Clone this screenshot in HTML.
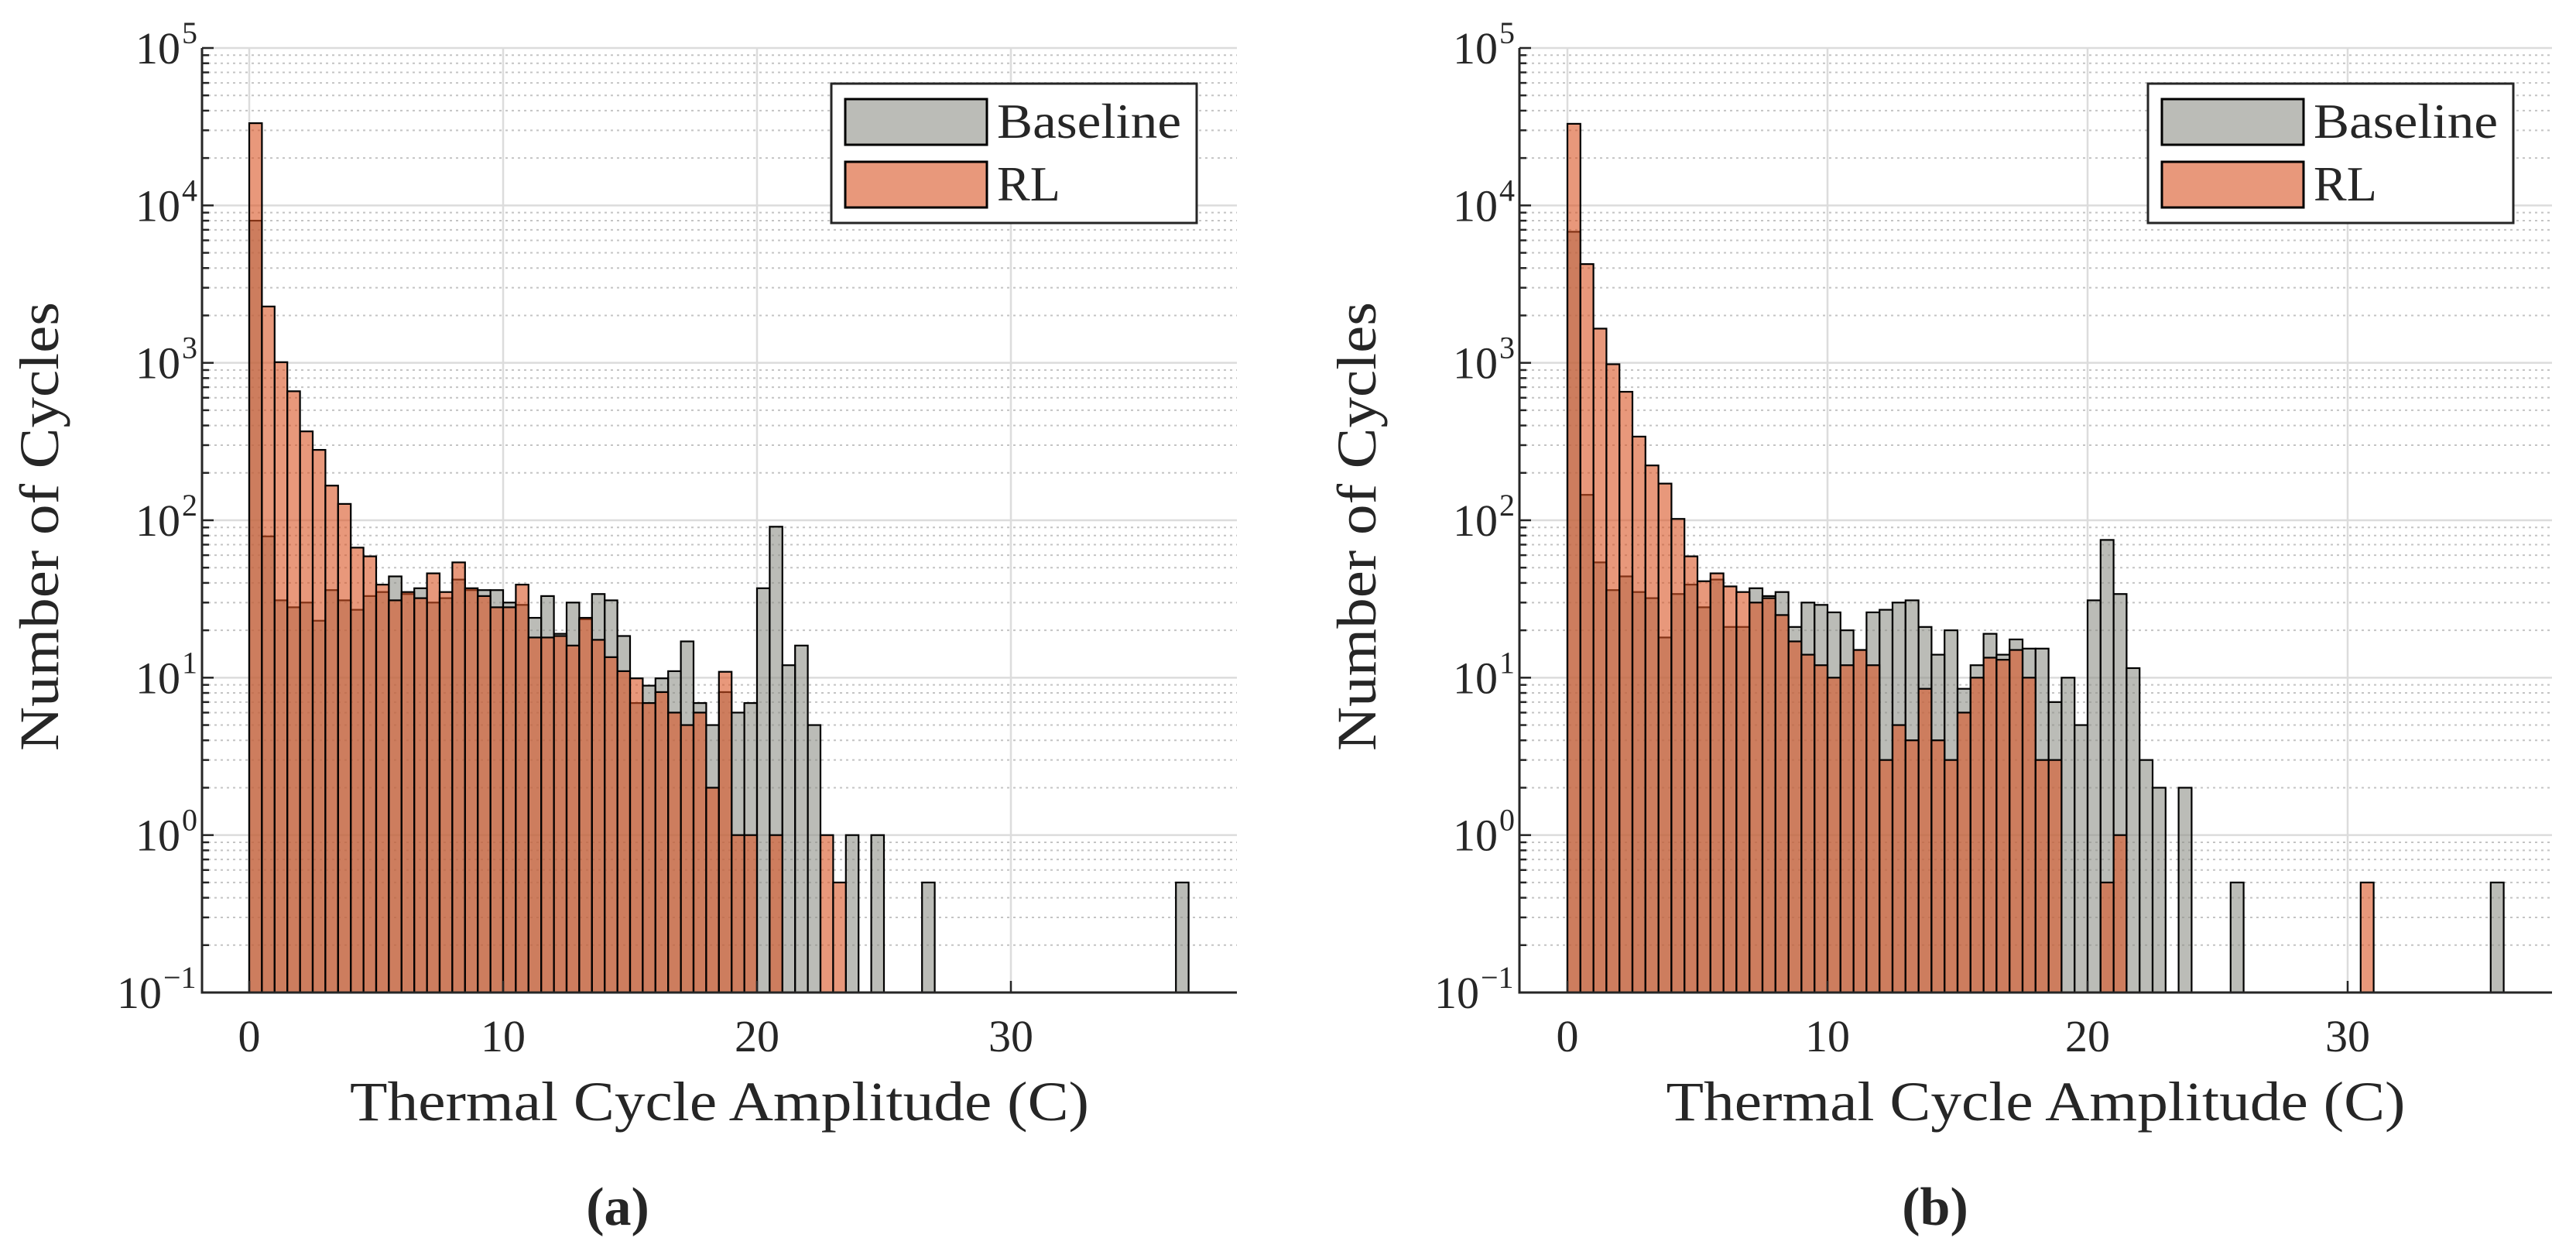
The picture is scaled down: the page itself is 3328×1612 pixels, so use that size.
<!DOCTYPE html>
<html><head><meta charset="utf-8"><style>
html,body{margin:0;padding:0;background:#fff;}
svg{display:block;}
text{font-family:"Liberation Serif",serif;fill:#262626;}
</style></head><body>
<svg id="fig" width="3328" height="1612" viewBox="0 0 3328 1612" xmlns="http://www.w3.org/2000/svg">
<rect x="0" y="0" width="3328" height="1612" fill="#fff"/>
</svg>
<script>
// ---- data (bin width 0.5 C, bins start at 0) ----
const binWidth = 0.5;
const xTicks = [0, 10, 20, 30];
const yTickExps = [-1, 0, 1, 2, 3, 4, 5];
const legendLabels = ["Baseline", "RL"];
const baselineA = [8000,79,31,28,30,23,36,31,27,33, 35,44,34,37,30,32,42,36,36,36, 30,29,24,33,19,30,23.5,34,31,18.4, 6.9,8.9,9.9,11,17,6.9,5,8.1,6,6.9, 37,91,12,16,5,0,0,1,0,1, 0,0,0,0.5,0,0,0,0,0,0, 0,0,0,0,0,0,0,0,0,0, 0,0,0,0.5];
const rlA = [33300,2280,1010,660,367,280,166,127,67,59, 39,31,35,32,46,35,54,37,33,28, 28,39,18,18,18.4,16,24,17.4,13.5,11, 9.9,6.9,8.1,6,5,6,2,10.9,1,1, 0,1,0,0,0,1,0.5];
const baselineB = [6800,145,54,36,44,35,32,18,34,39, 28,42,21,21,37,33,35,21,30,29, 26,20,15,26,27,30,31,21,14,20, 8.5,12,19,14,17.5,15.3,15.3,7,10,5, 31,75,34,11.5,3,2,0,2,0,0, 0,0.5,0,0,0,0,0,0,0,0, 0,0,0,0,0,0,0,0,0,0, 0,0.5];
const rlB = [33000,4240,1650,980,655,340,223,171,102,59, 41,46,38,35,30,32,25,17,14,12, 10,12,15,12,3,5,4,8.5,4,3, 6,10,13.4,13,15,10,3,3,0,0, 0,0.5,1,0,0,0,0,0,0,0, 0,0,0,0,0,0,0,0,0,0, 0,0.5];

const NS = "http://www.w3.org/2000/svg";
const svg = document.getElementById("fig");
function mk(tag, attrs, parent) {
  const e = document.createElementNS(NS, tag);
  for (const k in attrs) e.setAttribute(k, attrs[k]);
  (parent || svg).appendChild(e);
  return e;
}

function panel(cfg) {
  const g = mk("g", {});
  
  
  const top = 62, bottom = 1282;
  const decade = (bottom - top) / 6;
  const xS = v => cfg.x0 + v * cfg.unit;
  const yS = v => bottom - (Math.log10(v) + 1) * decade;

  for (let e = -1; e < 5; e++) {
    for (let m = 2; m <= 9; m++) {
      const y = yS(m * Math.pow(10, e));
      const l = mk("line", {x1: cfg.left, x2: cfg.right, y1: y, y2: y, stroke: "#c4c4c4", "stroke-width": 2, "stroke-dasharray": "3 5"}, g);
      
      
    }
  }
  yTickExps.forEach(e => {
    const y = yS(Math.pow(10, e));
    const l = mk("line", {x1: cfg.left, x2: cfg.right, y1: y, y2: y, stroke: "#dcdcdc", "stroke-width": 2.5}, g);
    
    
  });
  xTicks.forEach(t => {
    const x = xS(t);
    const l = mk("line", {x1: x, x2: x, y1: top, y2: bottom, stroke: "#dcdcdc", "stroke-width": 2.5}, g);
    
    
  });

  function bars(vals, fill, name) {
    vals.forEach((v, i) => {
      if (!(v > 0)) return;
      const x = xS(i * binWidth), w = binWidth * cfg.unit;
      const y = yS(v);
      const r = mk("rect", {x: x, y: y, width: w, height: bottom - y, fill: fill, "fill-opacity": 0.6, stroke: "#000", "stroke-width": 2.2}, g);
      
      
    });
  }
  bars(cfg.base, "rgb(142,144,135)", "baseline");
  bars(cfg.rl, "rgb(217,84,35)", "rl");

  const ax = mk("path", {d: `M${cfg.left},${top} L${cfg.left},${bottom} L${cfg.right},${bottom}`, fill: "none", stroke: "#262626", "stroke-width": 3}, g);
  
  
  for (let e = -1; e < 5; e++) {
    for (let m = 2; m <= 9; m++) {
      const y = yS(m * Math.pow(10, e));
      const t = mk("line", {x1: cfg.left, x2: cfg.left + 9, y1: y, y2: y, stroke: "#262626", "stroke-width": 2.5}, g);
      
      
    }
  }
  yTickExps.forEach(e => {
    const y = yS(Math.pow(10, e));
    const t = mk("line", {x1: cfg.left, x2: cfg.left + 15, y1: y, y2: y, stroke: "#262626", "stroke-width": 2.5}, g);
    
    
    const lab = mk("text", {x: cfg.left - 28, y: y + 20, "text-anchor": "end", "font-size": 58}, g);
    
    
    lab.textContent = "10";
    const sup = mk("text", {x: cfg.left - 26, y: y - 6, "text-anchor": "start", "font-size": 40}, g);
    
    
    sup.textContent = e < 0 ? "\u2212" + (-e) : String(e);
    if (e < 0) { lab.setAttribute("x", cfg.left - 52); sup.setAttribute("x", cfg.left - 50); }
  });
  xTicks.forEach(tv => {
    const x = xS(tv);
    const t = mk("line", {x1: x, x2: x, y1: bottom, y2: bottom - 15, stroke: "#262626", "stroke-width": 2.5}, g);
    
    
    const lab = mk("text", {x: x, y: 1358, "text-anchor": "middle", "font-size": 58}, g);
    
    
    lab.textContent = String(tv);
  });
  const cx = (cfg.left + cfg.right) / 2;
  const xt = mk("text", {x: cx, y: 1447, "text-anchor": "middle", "font-size": 72, textLength: 955, lengthAdjust: "spacingAndGlyphs"}, g);
  
  
  xt.textContent = "Thermal Cycle Amplitude (C)";
  const ytx = cfg.left - 186;
  const yt = mk("text", {x: 0, y: 0, "text-anchor": "middle", "font-size": 72, textLength: 580, lengthAdjust: "spacingAndGlyphs", transform: `translate(${ytx},${(top + bottom) / 2 + 8}) rotate(-90)`}, g);
  
  
  yt.textContent = "Number of Cycles";
  const cap = mk("text", {x: cfg.capX, y: 1582, "text-anchor": "middle", "font-size": 70, "font-weight": "bold"}, g);
  
  
  cap.textContent = cfg.caption;

  const lg = mk("g", {}, g);
  
  
  const lb = mk("rect", {x: cfg.legX, y: 108, width: 472, height: 180, fill: "#fff", stroke: "#262626", "stroke-width": 3}, lg);
  
  
  const fills = ["rgb(142,144,135)", "rgb(217,84,35)"];
  legendLabels.forEach((name, i) => {
    const sy = 128 + i * 81;
    const sw = mk("rect", {x: cfg.legX + 18, y: sy, width: 183, height: 59, fill: fills[i], "fill-opacity": 0.6, stroke: "#000", "stroke-width": 3}, lg);
    
    
    const tx = mk("text", {x: cfg.legX + 214, y: sy + 50, "font-size": 64}, lg);
    
    
    if (i === 0) { tx.setAttribute("textLength", 238); tx.setAttribute("lengthAdjust", "spacingAndGlyphs"); }
    tx.textContent = name;
  });
}

panel({id: "panel-a", left: 261, right: 1598, x0: 322, unit: 32.8, base: baselineA, rl: rlA, caption: "(a)", capX: 798, legX: 1074});
panel({id: "panel-b", left: 1963, right: 3297, x0: 2025, unit: 33.6, base: baselineB, rl: rlB, caption: "(b)", capX: 2500, legX: 2775});
</script>
</body></html>
